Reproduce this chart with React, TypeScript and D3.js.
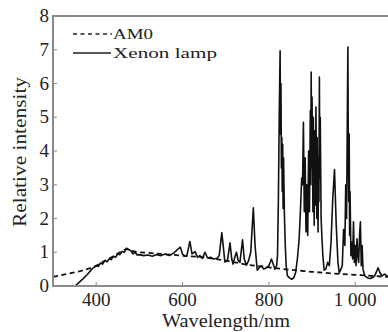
import React from "react";
import * as d3 from "d3";

const W = 388;
const H = 332;

const xTicks = [400, 600, 800, 1000];
const xTickLabels = ["400", "600", "800", "1 000"];
const yTicks = [0, 1, 2, 3, 4, 5, 6, 7, 8];

const am0Wl = [300, 330, 360, 386, 400, 420, 440, 455, 470, 485, 500, 550, 600, 650, 700, 750, 800, 850, 900, 950, 1000, 1050, 1100];
const am0Val = [0.27, 0.35, 0.43, 0.53, 0.6, 0.75, 0.88, 1.0, 1.1, 1.03, 1.0, 0.95, 0.9, 0.85, 0.75, 0.63, 0.55, 0.48, 0.42, 0.37, 0.33, 0.29, 0.25];

const xeWl = [351, 360, 370, 380, 390, 395, 400, 405, 410, 415, 420, 425, 430, 435, 440, 445, 450, 455, 460, 465, 470, 475, 480, 485, 490, 495, 500, 510, 520, 530, 540, 550, 560, 570, 580, 590, 595, 600, 605, 610, 617, 622, 629, 635, 640, 646, 652, 658, 665, 672, 680, 685, 691, 695, 698, 704, 710, 714, 717, 721, 725, 729, 733, 739, 743, 748, 753, 758, 764, 768, 773, 778, 783, 788, 795, 800, 806, 810, 814, 818, 820, 822, 824, 826, 827, 828, 829, 830, 831, 832, 833, 834, 836, 838, 840, 843, 848, 853, 858, 862, 866, 870, 873, 876, 878, 880, 882, 884, 886, 888, 890, 892, 894, 896, 897, 898, 899, 900, 902, 903, 905, 906, 908, 909, 911, 912, 914, 915, 916, 917, 918, 919, 921, 923, 925, 928, 932, 936, 940, 944, 948, 952, 956, 960, 963, 967, 970, 973, 976, 978, 980, 982, 983, 984, 985, 986, 987, 988, 990, 992, 994, 996, 998, 1000, 1002, 1004, 1006, 1008, 1010, 1012, 1014, 1016, 1018, 1022, 1029, 1035, 1040, 1045, 1050, 1053, 1057, 1062, 1068, 1075, 1080, 1090, 1100];
const xeVal = [0, 0.1, 0.22, 0.35, 0.5, 0.55, 0.6, 0.58, 0.68, 0.65, 0.75, 0.72, 0.8, 0.78, 0.88, 0.85, 0.95, 0.93, 1.02, 1.0, 1.12, 1.08, 1.05, 0.95, 1.0, 0.92, 0.93, 0.9, 0.92, 0.88, 0.93, 0.9, 0.95, 0.9, 0.98, 1.1, 1.15, 0.95, 0.88, 0.9, 1.32, 0.95, 1.02, 0.85, 0.9, 0.82, 1.0, 0.83, 0.85, 0.8, 0.82, 0.9, 1.58, 1.1, 0.71, 0.75, 1.28, 0.8, 0.65, 0.85, 1.0, 0.75, 0.7, 1.37, 0.8, 0.62, 0.75, 1.0, 2.32, 1.2, 0.47, 0.55, 0.6, 0.5, 0.55, 0.6, 0.8, 0.65, 0.5, 0.6, 0.9, 2.5, 5.0, 6.97, 4.5, 6.0, 3.5, 4.4, 2.8, 4.2, 2.3, 3.8, 2.1, 1.2, 0.6, 0.3, 0.24, 0.2, 0.25, 0.4, 0.8, 1.37, 2.2, 3.2, 3.0, 4.85, 2.2, 3.8, 1.6, 3.0, 1.5, 4.0, 2.2, 5.2, 3.0, 6.34, 3.5, 5.6, 2.2, 5.0, 1.8, 4.6, 2.4, 5.3, 2.0, 4.4, 1.6, 3.8, 2.5, 6.19, 3.2, 5.0, 2.0, 1.4, 0.9, 0.47, 0.5, 0.7, 0.6, 1.3, 2.6, 3.45, 1.8, 0.7, 0.39, 0.5, 0.6, 1.67, 1.2, 3.0, 2.0, 5.5, 7.08, 4.0, 2.5, 4.5, 1.5, 2.8, 0.9, 1.3, 0.8, 1.9, 0.7, 1.2, 0.6, 1.4, 0.9, 0.7, 1.5, 1.9, 0.6, 1.2, 0.5, 0.3, 0.24, 0.22, 0.25, 0.3, 0.45, 0.54, 0.4, 0.3, 0.35, 0.28, 0.3, 0.25, 0.3];

export default function App() {
  const x = d3.scaleLinear().domain([300, 1100]).range([53, 398.4]);
  const y = d3.scaleLinear().domain([0, 8]).range([286, 16]);

  const am0 = am0Wl.map((w, i) => [w, am0Val[i]] as [number, number]);
  const xe = xeWl.map((w, i) => [w, xeVal[i]] as [number, number]);
  const line = d3
    .line<[number, number]>()
    .x((d) => x(d[0]))
    .y((d) => y(d[1]));

  const font = "'Liberation Serif', 'Times New Roman', serif";
  const axisColor = "#8a8a8a";

  return (
    <svg
      width={W}
      height={H}
      style={{ position: "absolute", left: 0, top: 0, background: "#fff" }}
      fontFamily={font}
    >
      <rect x={0} y={0} width={W} height={H} fill="#fff" />
      <path d={line(am0) || ""} fill="none" stroke="#111" strokeWidth={1.8} strokeDasharray="5,3.5" />
      <path d={line(xe) || ""} fill="none" stroke="#111" strokeWidth={1.6} strokeLinejoin="round" />
      {/* frame */}
      <line x1={53} y1={y(8)} x2={W} y2={y(8)} stroke={axisColor} strokeWidth={2} />
      <line x1={53} y1={y(8) - 1} x2={53} y2={y(0) + 1} stroke={axisColor} strokeWidth={2} />
      <line x1={52} y1={y(0)} x2={W} y2={y(0)} stroke={axisColor} strokeWidth={2} />
      {yTicks.map((t) => (
        <g key={"y" + t}>
          <line x1={53} x2={57} y1={y(t)} y2={y(t)} stroke={axisColor} strokeWidth={1} />
          <text x={49} y={y(t) + 6} textAnchor="end" fontSize={19} fill="#222">
            {t}
          </text>
        </g>
      ))}
      {xTicks.map((t, i) => (
        <g key={"x" + t}>
          <line x1={x(t)} x2={x(t)} y1={y(0)} y2={y(0) - 4} stroke={axisColor} strokeWidth={1} />
          <text x={x(t)} y={306} textAnchor="middle" fontSize={19} fill="#222">
            {xTickLabels[i]}
          </text>
        </g>
      ))}
      <text x={226} y={327} textAnchor="middle" fontSize={18} fill="#222" textLength={128} lengthAdjust="spacingAndGlyphs">
        Wavelength/nm
      </text>
      <text
        transform={`translate(26,152) rotate(-90)`}
        textAnchor="middle"
        fontSize={18}
        fill="#222"
        textLength={150}
        lengthAdjust="spacingAndGlyphs"
      >
        Relative intensity
      </text>
      {/* legend */}
      <line x1={73} x2={112} y1={34} y2={34} stroke="#222" strokeWidth={1.6} strokeDasharray="4,3.5" />
      <text x={113} y={39} fontSize={15} fill="#222" textLength={40} lengthAdjust="spacingAndGlyphs">
        AM0
      </text>
      <line x1={73} x2={111} y1={53} y2={53} stroke="#222" strokeWidth={1.6} />
      <text x={113} y={58} fontSize={15} fill="#222" textLength={104} lengthAdjust="spacingAndGlyphs">
        Xenon lamp
      </text>
    </svg>
  );
}
